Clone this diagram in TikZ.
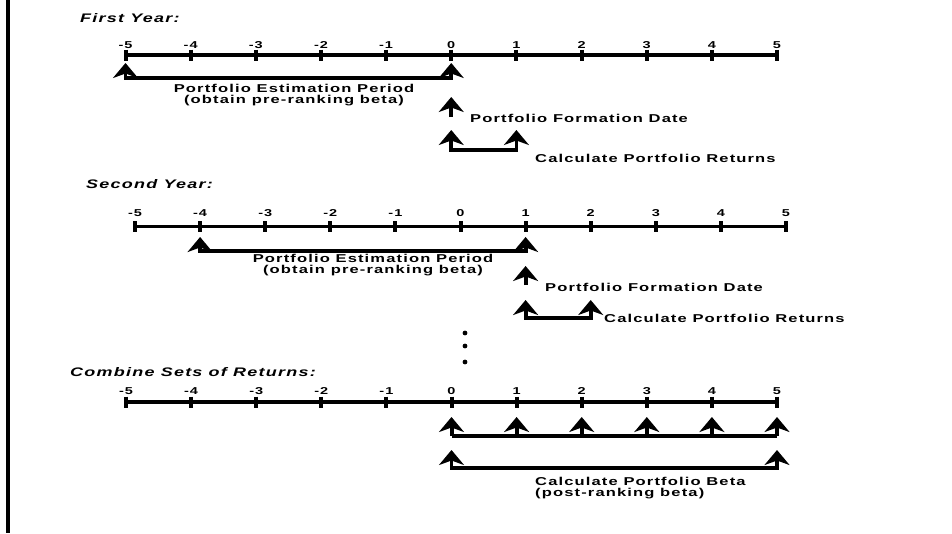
\documentclass[tikz,border=0pt]{standalone}
\usepackage{fontspec}
\setmainfont{Liberation Sans}
\newfontfamily\labfont[FakeStretch=1.45,LetterSpace=10]{Liberation Sans}
\usetikzlibrary{arrows.meta}
\begin{document}
\begin{tikzpicture}[x=1pt,y=-1pt,
  axis/.style={line width=3.2pt},
  tickmark/.style={line width=4pt},
  num/.style={font=\labfont\bfseries\fontsize{10}{10}\selectfont, inner sep=0pt},
  lbl/.style={font=\labfont\bfseries\fontsize{11.4}{11}\selectfont, inner sep=0pt},
  ttl/.style={font=\labfont\bfseries\itshape\fontsize{12.4}{12}\selectfont, inner sep=0pt, anchor=west},
  tipstyle/.tip={Stealth[length=15pt,width=25pt,inset=4.5pt]},
  arr/.style={line width=4pt, -tipstyle},
  brk/.style={line width=3.8pt, tipstyle-tipstyle},
  bar/.style={line width=3.8pt}]
\useasboundingbox (0,0) rectangle (952,533);
\draw[line width=3.4pt] (8,0) -- (8,533);

% titles
\node[ttl] (t1) at (80,18) {First Year:};
\node[ttl] (t2) at (86,184) {Second Year:};
\node[ttl] (t3) at (70,372) {Combine Sets of Returns:};

% timelines
\foreach \k in {0,...,10} {
  \pgfmathtruncatemacro\v{\k-5}
  \coordinate (A\k) at ({125.5+65.15*\k},55);
  \coordinate (B\k) at ({135+65.1*\k},226.5);
  \coordinate (C\k) at ({126+65.1*\k},402);
  \draw[tickmark] ([yshift=5.5pt]A\k) -- ([yshift=-5.5pt]A\k);
  \draw[tickmark] ([yshift=5.5pt]B\k) -- ([yshift=-5.5pt]B\k);
  \draw[tickmark] ([yshift=5.5pt]C\k) -- ([yshift=-5.5pt]C\k);
  \node[num] (nA\k) at ([yshift=10pt]A\k) {\v};
  \node[num] (nB\k) at ([yshift=13.5pt]B\k) {\v};
  \node[num] (nC\k) at ([yshift=10.5pt]C\k) {\v};
}
\draw[axis] (A0) -- (A10);
\draw[axis] (B0) -- (B10);
\draw[axis] (C0) -- (C10);

% ---------- First year ----------
\path (A0) ++(0,8) coordinate (e1a) ++(0,15) coordinate (e1c);
\path (A5) ++(0,8) coordinate (e1b);
\draw[brk] (e1a) -- (e1c) -| (e1b);
\node[lbl, align=center] (e1t) at (294,95.5) {Portfolio Estimation Period\\(obtain pre-ranking beta)};

\path (A5) ++(0,42) coordinate (f1a) ++(0,20) coordinate (f1b);
\draw[arr] (f1b) -- (f1a);
\node[lbl, anchor=west] (f1t) at (470,118) {Portfolio Formation Date};

\path (A5) ++(0,75) coordinate (r1a) ++(0,20) coordinate (r1c);
\path (A6) ++(0,75) coordinate (r1b);
\draw[brk] (r1a) -- (r1c) -| (r1b);
\node[lbl, anchor=west] (r1t) at (535,158) {Calculate Portfolio Returns};

% ---------- Second year ----------
\path (B1) ++(0,10.5) coordinate (e2a) ++(0,14) coordinate (e2c);
\path (B6) ++(0,10.5) coordinate (e2b);
\draw[brk] (e2a) -- (e2c) -| (e2b);
\node[lbl, align=center] (e2t) at (373,265.5) {Portfolio Estimation Period\\(obtain pre-ranking beta)};

\path (B6) ++(0,39.5) coordinate (f2a) ++(0,19) coordinate (f2b);
\draw[arr] (f2b) -- (f2a);
\node[lbl, anchor=west] (f2t) at (545,287) {Portfolio Formation Date};

\path (B6) ++(0,73.5) coordinate (r2a) ++(0,18) coordinate (r2c);
\path (B7) ++(0,73.5) coordinate (r2b);
\draw[brk] (r2a) -- (r2c) -| (r2b);
\node[lbl, anchor=west] (r2t) at (604,318) {Calculate Portfolio Returns};

% dots
\fill (465,333) circle (2.4) (465,346) circle (2.4) (465,362) circle (2.4);

% ---------- Combine ----------
\foreach \k in {5,...,10} {
  \path (C\k) ++(0,15) coordinate (ct\k) ++(0,19) coordinate (cc\k);
  \draw[arr] (cc\k) -- (ct\k);
}
\draw[bar] (cc5) -- (cc10);

\path (C5) ++(0,48) coordinate (d0a) ++(0,18) coordinate (d0c);
\path (C10) ++(0,48) coordinate (d5a);
\draw[brk] (d0a) -- (d0c) -| (d5a);
\node[lbl, align=left, anchor=west] (bt) at (535,488) {Calculate Portfolio Beta\\(post-ranking beta)};
\end{tikzpicture}
\end{document}
